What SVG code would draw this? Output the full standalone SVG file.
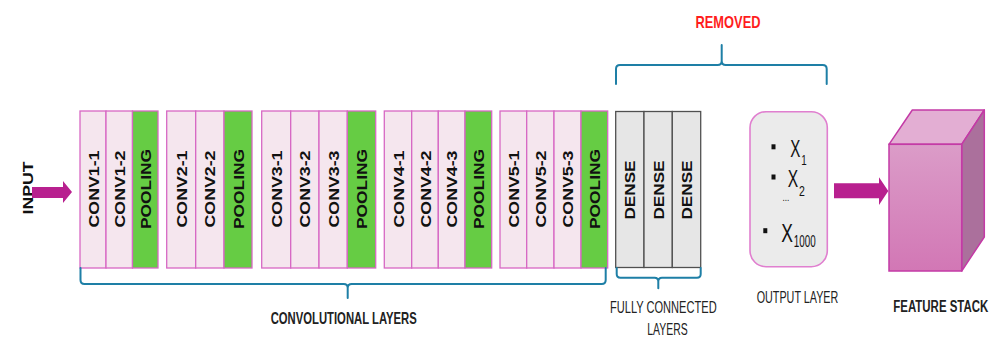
<svg xmlns="http://www.w3.org/2000/svg" width="997" height="338" viewBox="0 0 997 338">
  <defs>
    <style>
      .conv { fill: #f5e6ee; stroke: #d768c4; stroke-width: 1.3; }
      .pool { fill: #66cc44; stroke: #d768c4; stroke-width: 1.3; }
      .dense { fill: #e6e6e6; stroke: #505050; stroke-width: 1.3; }
      .vt { font-family: "Liberation Sans", Arial, sans-serif; font-weight: bold; font-size: 15px; fill: #111; text-anchor: middle; dominant-baseline: central; }
      .lbl { font-family: "Liberation Sans", Arial, sans-serif; fill: #222; text-anchor: middle; }
      .bold { font-weight: bold; }
      .red { fill: #ff1c1c; }
      .brace { fill: none; stroke: #1e7fa6; stroke-width: 2; stroke-linecap: round; stroke-linejoin: round; }
      .arrow { fill: #b8208f; }
      .math { font-family: "Liberation Sans", Arial, sans-serif; fill: #111; }
    </style>
    <linearGradient id="frontGrad" x1="0" y1="0" x2="0" y2="1">
      <stop offset="0" stop-color="#db9cc8"/>
      <stop offset="1" stop-color="#d277b5"/>
    </linearGradient>
  </defs>

  <!-- input label -->
  <g id="input">
    <text class="vt" transform="translate(27,188) rotate(-90)" font-size="14" textLength="53" lengthAdjust="spacingAndGlyphs">INPUT</text>
  </g>

  <!-- block 1 -->
  <g id="block1">
    <rect class="conv" x="80" y="111" width="26" height="157"/>
    <rect class="conv" x="106" y="111" width="26.5" height="157"/>
    <rect class="pool" x="132.5" y="111" width="25.5" height="157"/>
    <text class="vt" transform="translate(93,189) rotate(-90)" textLength="77" lengthAdjust="spacingAndGlyphs">CONV1-1</text>
    <text class="vt" transform="translate(119.3,189) rotate(-90)" textLength="77" lengthAdjust="spacingAndGlyphs">CONV1-2</text>
    <text class="vt" transform="translate(145.3,189) rotate(-90)" textLength="80" lengthAdjust="spacingAndGlyphs">POOLING</text>
  </g>

  <!-- block 2 -->
  <g id="block2">
    <rect class="conv" x="166.7" y="111" width="29" height="157"/>
    <rect class="conv" x="195.7" y="111" width="28.3" height="157"/>
    <rect class="pool" x="224" y="111" width="28" height="157"/>
    <text class="vt" transform="translate(181.2,189) rotate(-90)" textLength="77" lengthAdjust="spacingAndGlyphs">CONV2-1</text>
    <text class="vt" transform="translate(209.8,189) rotate(-90)" textLength="77" lengthAdjust="spacingAndGlyphs">CONV2-2</text>
    <text class="vt" transform="translate(238,189) rotate(-90)" textLength="80" lengthAdjust="spacingAndGlyphs">POOLING</text>
  </g>

  <!-- block 3 -->
  <g id="block3">
    <rect class="conv" x="261.7" y="111" width="29" height="157"/>
    <rect class="conv" x="290.7" y="111" width="28.3" height="157"/>
    <rect class="conv" x="319" y="111" width="28.3" height="157"/>
    <rect class="pool" x="347.3" y="111" width="28.4" height="157"/>
    <text class="vt" transform="translate(276.2,189) rotate(-90)" textLength="77" lengthAdjust="spacingAndGlyphs">CONV3-1</text>
    <text class="vt" transform="translate(304.8,189) rotate(-90)" textLength="77" lengthAdjust="spacingAndGlyphs">CONV3-2</text>
    <text class="vt" transform="translate(333.2,189) rotate(-90)" textLength="77" lengthAdjust="spacingAndGlyphs">CONV3-3</text>
    <text class="vt" transform="translate(361.5,189) rotate(-90)" textLength="80" lengthAdjust="spacingAndGlyphs">POOLING</text>
  </g>

  <!-- block 4 -->
  <g id="block4">
    <rect class="conv" x="384.3" y="111" width="27.4" height="157"/>
    <rect class="conv" x="411.7" y="111" width="26.6" height="157"/>
    <rect class="conv" x="438.3" y="111" width="26.7" height="157"/>
    <rect class="pool" x="465" y="111" width="26.7" height="157"/>
    <text class="vt" transform="translate(398,189) rotate(-90)" textLength="77" lengthAdjust="spacingAndGlyphs">CONV4-1</text>
    <text class="vt" transform="translate(425,189) rotate(-90)" textLength="77" lengthAdjust="spacingAndGlyphs">CONV4-2</text>
    <text class="vt" transform="translate(451.7,189) rotate(-90)" textLength="77" lengthAdjust="spacingAndGlyphs">CONV4-3</text>
    <text class="vt" transform="translate(478.3,189) rotate(-90)" textLength="80" lengthAdjust="spacingAndGlyphs">POOLING</text>
  </g>

  <!-- block 5 -->
  <g id="block5">
    <rect class="conv" x="500" y="111" width="26.7" height="157"/>
    <rect class="conv" x="526.7" y="111" width="27.3" height="157"/>
    <rect class="conv" x="554" y="111" width="27" height="157"/>
    <rect class="pool" x="581" y="111" width="26.7" height="157"/>
    <text class="vt" transform="translate(513.3,189) rotate(-90)" textLength="77" lengthAdjust="spacingAndGlyphs">CONV5-1</text>
    <text class="vt" transform="translate(540.3,189) rotate(-90)" textLength="77" lengthAdjust="spacingAndGlyphs">CONV5-2</text>
    <text class="vt" transform="translate(567.5,189) rotate(-90)" textLength="77" lengthAdjust="spacingAndGlyphs">CONV5-3</text>
    <text class="vt" transform="translate(594.3,189) rotate(-90)" textLength="80" lengthAdjust="spacingAndGlyphs">POOLING</text>
  </g>

  <!-- fully connected layers -->
  <g id="dense">
    <rect class="dense" x="615.7" y="111.5" width="28.3" height="156"/>
    <rect class="dense" x="644" y="111.5" width="28.3" height="156"/>
    <rect class="dense" x="672.3" y="111.5" width="28.4" height="156"/>
    <text class="vt" transform="translate(629.8,190) rotate(-90)" textLength="59" lengthAdjust="spacingAndGlyphs">DENSE</text>
    <text class="vt" transform="translate(658.2,190) rotate(-90)" textLength="59" lengthAdjust="spacingAndGlyphs">DENSE</text>
    <text class="vt" transform="translate(686.5,190) rotate(-90)" textLength="59" lengthAdjust="spacingAndGlyphs">DENSE</text>
  </g>

  <!-- output layer: condensed X symbols with subscripts -->
  <g id="output">
    <rect x="750" y="111.7" width="77.3" height="155" rx="16" ry="16" fill="#ebebeb" stroke="#e07fcf" stroke-width="1.6"/>
    <rect x="771.5" y="144.3" width="4" height="5" fill="#111"/>
    <rect x="771.5" y="174.5" width="4" height="5" fill="#111"/>
    <rect x="763.3" y="228.2" width="4" height="5" fill="#111"/>
    <text class="math" transform="translate(790.3,156.7) scale(0.66,1)" font-size="23" textLength="15.3" lengthAdjust="spacingAndGlyphs">X</text>
    <text class="math" transform="translate(801.2,165) scale(0.7,1)" font-size="14" textLength="7.8" lengthAdjust="spacingAndGlyphs">1</text>
    <text class="math" transform="translate(787.8,187) scale(0.68,1)" font-size="23" textLength="15.3" lengthAdjust="spacingAndGlyphs">X</text>
    <text class="math" transform="translate(799,195.5) scale(0.75,1)" font-size="14" textLength="7.8" lengthAdjust="spacingAndGlyphs">2</text>
    <text class="math" transform="translate(782.5,201) scale(0.75,1)" font-size="11" textLength="9.2" lengthAdjust="spacingAndGlyphs">...</text>
    <text class="math" transform="translate(781.3,241.7) scale(0.7,1)" font-size="25" textLength="16.7" lengthAdjust="spacingAndGlyphs">X</text>
    <text class="math" transform="translate(793.8,246.8) scale(0.58,1)" font-size="17" textLength="37.8" lengthAdjust="spacingAndGlyphs">1000</text>
  </g>

  <!-- feature stack cube -->
  <g id="feature-stack">
    <polygon points="889,144.3 912.3,110 984.3,110 961.7,144.3" fill="#e3aed3" stroke="#c43aa6" stroke-width="1.5" stroke-linejoin="round"/>
    <polygon points="961.7,144.3 984.3,110 984.3,237 961.7,271" fill="#ab709c" stroke="#c43aa6" stroke-width="1.5" stroke-linejoin="round"/>
    <rect x="889" y="144.3" width="72.7" height="126.7" fill="url(#frontGrad)" stroke="#c43aa6" stroke-width="1.5"/>
  </g>

  <!-- connectors: arrows and braces -->
  <g id="connectors">
    <polygon class="arrow" points="32,187 63,187 63,181 72,192 63,203 63,198 32,198"/>
    <polygon class="arrow" points="834,183.3 879,183.3 879,177.3 888.3,191 879,205 879,198.3 834,198.3"/>
    <path class="brace" d="M80.5,268 V280 Q80.5,284 84.5,284 H343.7 Q347.7,284 347.7,288 V298 M347.7,288 Q347.7,284 351.7,284 H601.7 Q605.7,284 605.7,280 V268"/>
    <path class="brace" d="M616.7,268 V274 Q616.7,277.7 620.4,277.7 H654.6 Q658.3,277.7 658.3,281.4 V288.3 M658.3,281.4 Q658.3,277.7 662,277.7 H697 Q700.7,277.7 700.7,274 V268"/>
    <path class="brace" d="M616,84 V69 Q616,65 620,65 H717.7 Q721.7,65 721.7,61 V45 M721.7,61 Q721.7,65 725.7,65 H822.7 Q826.7,65 826.7,69 V84"/>
  </g>

  <!-- captions, horizontally condensed -->
  <g id="labels">
    <text class="lbl bold red" transform="translate(728,28.3) scale(0.78,1)" font-size="16.5" textLength="83.3" lengthAdjust="spacingAndGlyphs">REMOVED</text>
    <text class="lbl bold" transform="translate(343.7,324) scale(0.7,1)" font-size="16" textLength="208.6" lengthAdjust="spacingAndGlyphs">CONVOLUTIONAL LAYERS</text>
    <text class="lbl" transform="translate(663.3,313.3) scale(0.645,1)" font-size="17" textLength="165.4" lengthAdjust="spacingAndGlyphs">FULLY CONNECTED</text>
    <text class="lbl" transform="translate(667.5,335) scale(0.62,1)" font-size="16.5" textLength="65.2" lengthAdjust="spacingAndGlyphs">LAYERS</text>
    <text class="lbl" transform="translate(797.5,303.3) scale(0.665,1)" font-size="16" textLength="122.7" lengthAdjust="spacingAndGlyphs">OUTPUT LAYER</text>
    <text class="lbl bold" transform="translate(940.8,311.7) scale(0.662,1)" font-size="17" textLength="143.5" lengthAdjust="spacingAndGlyphs">FEATURE STACK</text>
  </g>
</svg>
